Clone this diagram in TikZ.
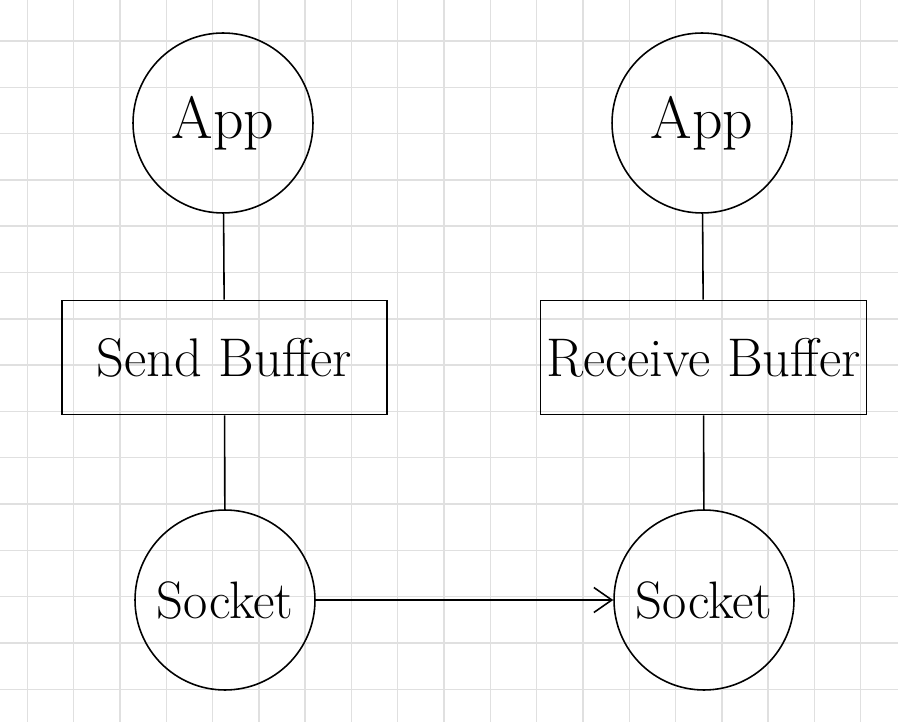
\documentclass[tikz,border=0pt]{standalone}
\usetikzlibrary{arrows.meta,positioning}

\begin{document}
\begin{tikzpicture}[
    x=0.02cm, y=-0.02cm,
    gridline/.style={line width=0.8pt, black!12},
    proc/.style={draw, circle, line width=0.9pt, minimum size=3.6cm, inner sep=0pt, font=\fontsize{30}{32}\selectfont},
    buffer/.style={draw, rectangle, line width=0.9pt, minimum width=6.5cm, minimum height=2.28cm, font=\fontsize{31}{33}\selectfont},
    link/.style={line width=0.9pt},
    arrow/.style={link, -{Straight Barb[length=3.6mm, width=5mm, line width=0.9pt]}}
]
\useasboundingbox (0,0) rectangle (898,722);

% Background grid
\foreach \i in {0,...,18} \draw[gridline] (27.3+46.3*\i, 0) -- (27.3+46.3*\i, 722);
\foreach \j in {0,...,14} \draw[gridline] (0, 41+46.3*\j) -- (898, 41+46.3*\j);

% Sender side
\node[proc, font=\fontsize{34}{36}\selectfont] (appS) at (223, 123) {App};
\node[buffer] (send) at (224.5, 357.5) {Send Buffer};
\node[proc] (sockS) at (225, 600) {Socket};

% Receiver side
\node[proc, font=\fontsize{34}{36}\selectfont] (appR) at (702, 123) {App};
\node[buffer] (recv) at (703.5, 357.5) {Receive Buffer};
\node[proc] (sockR) at (704, 600) {Socket};

% Connectors
\draw[link] (appS) -- (send);
\draw[link] (send) -- (sockS);
\draw[link] (appR) -- (recv);
\draw[link] (recv) -- (sockR);
\draw[arrow] (sockS) -- (sockR);

\end{tikzpicture}
\end{document}
